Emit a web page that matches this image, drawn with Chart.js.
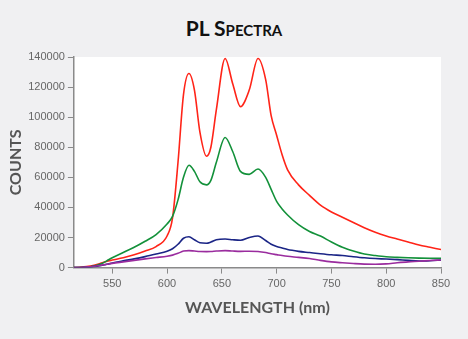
<!DOCTYPE html>
<html>
<head>
<meta charset="utf-8">
<script src="https://cdn.jsdelivr.net/npm/chart.js@4"></script>
<style>
    html, body { margin: 0; padding: 0; background: #f0f0f2; }
    #wrap { position: relative; width: 468px; height: 339px; }
    #title {
        position: absolute; left: 0; top: 15px; width: 468px; text-align: center;
        font-family: "Lato", "DejaVu Sans", sans-serif; font-weight: bold;
        font-size: 21px; font-variant: small-caps; color: #111;
    }
    canvas { position: absolute; left: 0; top: 0; }
</style>
</head>
<body>
<div id="wrap">
    <div id="title">PL Spectra</div>
    <canvas id="plChart" width="468" height="339"></canvas>
</div>
<script>
// Wavelength grid (nm) shared by all curves
const wavelengths = [515, 520, 530, 540, 545, 550, 560, 570, 580, 590, 600, 605, 610, 615, 620, 625, 630, 636, 640, 645,
    653, 660, 667, 675, 683, 690, 695, 700, 705, 710, 720, 730, 740, 750, 760, 770, 780, 790, 800, 810, 820, 830, 840, 850];

const redCounts = [0, 200, 1000, 3000, 4200, 5000, 6500, 8500, 11000, 14000, 21000, 33000, 70000, 115000, 129000, 118000, 90000, 74000, 80000, 105000,
    139000, 122000, 107000, 118000, 139000, 125000, 101000, 88000, 75000, 65000, 55000, 48000, 41500, 37000, 33500, 30000, 26500, 23500, 21000, 19000, 17000, 15000, 13500, 12000];

const greenCounts = [0, 0, 500, 2500, 4500, 6500, 10000, 13500, 17500, 22000, 29000, 34000, 45000, 60000, 68000, 64000, 57000, 55000, 58000, 70000,
    86500, 77000, 64000, 62000, 65500, 60000, 52000, 44000, 39000, 35000, 28500, 24000, 21000, 17000, 13500, 11000, 9000, 8000, 7200, 6800, 6500, 6300, 6200, 6200];

const blueCounts = [0, 0, 500, 1500, 2200, 3000, 4500, 5800, 7300, 9000, 10800, 12500, 15500, 19500, 20500, 18500, 16500, 16200, 17000, 18500,
    19000, 18500, 18200, 20000, 21000, 18000, 15500, 14000, 13000, 12000, 10800, 10000, 9200, 8500, 8000, 7200, 6500, 6000, 5700, 5300, 4800, 4400, 4600, 5000];

const purpleCounts = [0, 0, 600, 1600, 2200, 2800, 3800, 4800, 5800, 6700, 7600, 8300, 9500, 11000, 11300, 11000, 10700, 10600, 10700, 11000,
    11300, 11000, 10800, 10900, 10700, 10000, 9200, 8600, 8000, 7500, 6800, 6000, 4800, 3800, 3200, 2700, 2300, 2200, 2500, 3200, 3800, 4200, 4700, 5100];

const xTickValues = [550, 600, 650, 700, 750, 800, 850];

function toPoints(values) {
    return wavelengths.map((w, i) => ({ x: w, y: values[i] }));
}

function series(values, color) {
    return {
        data: toPoints(values),
        borderColor: color,
        borderWidth: 1.6,
        pointRadius: 0,
        fill: false,
        cubicInterpolationMode: 'monotone'
    };
}

// White plot area on the grey page
const plotBackground = {
    id: 'plotBackground',
    beforeDraw(chart) {
        const { ctx, chartArea } = chart;
        ctx.save();
        ctx.fillStyle = '#ffffff';
        ctx.fillRect(chartArea.left, chartArea.top, chartArea.right - chartArea.left, chartArea.bottom - chartArea.top);
        ctx.restore();
    }
};

const axisColor = '#8a8a8a';
const tickFont = { family: 'Liberation Sans, Arial, sans-serif', size: 11 };
const axisTitleFont = { family: 'Lato, DejaVu Sans, sans-serif', size: 16, weight: 'bold' };

new Chart(document.getElementById('plChart').getContext('2d'), {
    type: 'line',
    data: {
        datasets: [
            series(purpleCounts, '#9a2c9e'),
            series(blueCounts, '#1b2586'),
            series(greenCounts, '#13913a'),
            series(redCounts, '#ff2418')
        ]
    },
    options: {
        responsive: false,
        animation: false,
        layout: { padding: { top: 57, right: 27, left: 3, bottom: 18 } },
        plugins: {
            legend: { display: false },
            tooltip: { enabled: false }
        },
        scales: {
            x: {
                type: 'linear',
                min: 515,
                max: 850,
                afterBuildTicks: (scale) => { scale.ticks = xTickValues.map(v => ({ value: v })); },
                ticks: { color: '#666', font: tickFont, padding: 4, maxRotation: 0, callback: v => String(v) },
                grid: { drawOnChartArea: false, drawTicks: true, tickLength: 6, color: axisColor },
                border: { color: axisColor, width: 1.5 },
                title: { display: true, text: 'WAVELENGTH (nm)', color: '#555', font: axisTitleFont, padding: { top: 3 } }
            },
            y: {
                min: 0,
                max: 140000,
                ticks: { stepSize: 20000, color: '#666', font: tickFont, padding: 3, callback: v => String(v) },
                grid: { drawOnChartArea: false, drawTicks: true, tickLength: 6, color: axisColor },
                border: { color: axisColor, width: 1.5 },
                title: { display: true, text: 'COUNTS', color: '#555', font: axisTitleFont, padding: { top: 3, bottom: 0 } }
            }
        }
    },
    plugins: [plotBackground]
});
</script>
</body>
</html>
